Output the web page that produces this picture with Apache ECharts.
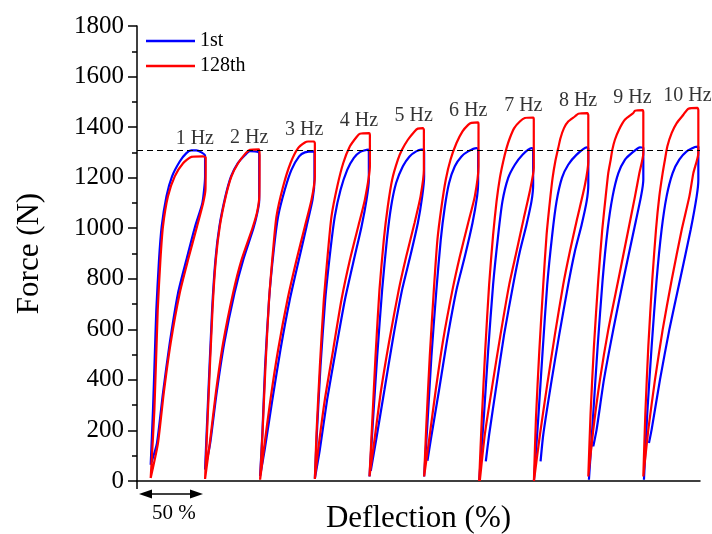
<!DOCTYPE html>
<html>
<head>
<meta charset="utf-8">
<script src="https://cdn.jsdelivr.net/npm/echarts@6/dist/echarts.min.js"></script>
<style>
  html, body { margin: 0; padding: 0; background: #fff; }
  #chart { width: 712px; height: 534px; }
</style>
</head>
<body>
<div id="chart"></div>
<script>
// Loading frequencies of the cyclic tests
const frequencies = ['1 Hz', '2 Hz', '3 Hz', '4 Hz', '5 Hz', '6 Hz', '7 Hz', '8 Hz', '9 Hz', '10 Hz'];

// Deflection (%) at which each frequency's loop begins on the shared axis
const loopStart = [10.7, 53.2, 96.2, 139.0, 181.7, 224.4, 267.4, 310.2, 352.7, 395.7];

// Reference force level (N)
const referenceForce = 1310;

// Y-axis tick values (N)
const forceTicks = [0, 200, 400, 600, 800, 1000, 1200, 1400, 1600, 1800];

// 1st cycle: [local deflection (%), force (N)] for each frequency
const cycle1st = [
  [[0,64],[1.8,282],[3.1,480],[4.4,677],[6.5,875],[8.6,1007],[12.3,1126],[16.7,1205],[22.7,1264],[27.9,1297],[31.8,1308],[35.7,1308],[42.5,1287],[42.5,1205],[40.4,1100],[34.7,1007],[27.9,875],[21.4,744],[14.9,546],[9.6,348],[4.9,150],[0,64]],
  [[0,45],[2,282],[5.5,677],[8.1,875],[11.2,1007],[15.9,1126],[20.3,1205],[25.5,1257],[31.3,1290],[35,1305],[41.5,1302],[42.3,1290],[42.3,1110],[40.8,1060],[37.8,1000],[29.8,875],[23,744],[15,546],[9,348],[4,150],[0,45]],
  [[0,20],[1.8,190],[3.9,453],[7.0,717],[10.7,915],[14.1,1047],[19.3,1152],[24.5,1231],[30.5,1284],[35,1300],[42,1304],[42.5,1295],[42.5,1192],[41,1113],[36.3,1007],[30.3,875],[23.2,717],[15.9,519],[9.6,322],[3.6,124],[0,20]],
  [[0,10],[1.6,190],[4.4,453],[8.1,717],[12.2,915],[15.6,1047],[20.1,1152],[25.3,1231],[30.5,1278],[35.2,1301],[41.7,1311],[42.2,1300],[42.2,1192],[40.4,1113],[36.5,1007],[30.5,875],[23.5,717],[16.4,519],[9.6,322],[3.9,124],[0,10]],
  [[0,18],[2.6,229],[6,493],[9.9,757],[13.6,955],[16.9,1086],[20.8,1179],[26.1,1245],[31.3,1284],[36.5,1304],[40.4,1311],[42.5,1311],[42.7,1300],[42.7,1205],[41.2,1126],[37.8,1021],[31.8,888],[25.5,757],[18.2,559],[11.7,361],[5.2,163],[1,40]],
  [[0,18],[2.6,229],[5.7,493],[9.6,757],[13,955],[16.2,1086],[19.5,1179],[24,1245],[29.2,1284],[34.4,1304],[40.9,1317],[42.2,1312],[42.2,1179],[41.4,1126],[37.8,1021],[31.8,888],[25.3,757],[18,559],[11.7,361],[5.2,163],[2.6,80]],
  [[0,0],[3.6,249],[7,513],[10.9,777],[14.9,974],[18.2,1106],[22.7,1199],[27.9,1251],[33.9,1291],[40.9,1317],[42.2,1315],[42.2,1172],[40.9,1106],[37,1014],[31.8,908],[26.6,777],[19.5,579],[13.6,381],[7.8,183],[5.2,78]],
  [[0,0],[3.4,249],[6.8,513],[10.4,777],[14.3,974],[17.7,1106],[21.9,1199],[26.8,1251],[33.4,1291],[41.2,1320],[42.5,1316],[42.5,1172],[41.2,1106],[37.3,1014],[32,908],[26.8,777],[19.8,579],[13.3,381],[7.3,183],[5.2,78]],
  [[0.5,5],[3.9,269],[7.3,532],[11.2,796],[15.1,994],[19,1126],[23.5,1218],[28.7,1271],[33.9,1297],[40.4,1320],[43,1318],[43,1192],[41.2,1126],[35.7,994],[27.4,796],[19.5,598],[12.2,400],[6.5,203],[3.9,137]],
  [[0.5,5],[3.1,269],[6.5,532],[10.4,796],[14.3,994],[18.2,1126],[22.9,1218],[28.1,1271],[33.9,1304],[40.4,1321],[43,1323],[43,1192],[41.7,1126],[37,994],[28.7,796],[20.3,598],[13,400],[6.5,203],[4.4,150]]
];

// 128th cycle: [local deflection (%), force (N)] for each frequency
const cycle128th = [
  [[0,12],[2.9,282],[5.5,677],[7.6,875],[9.6,1007],[13.5,1126],[18.8,1205],[25.3,1257],[31.8,1282],[40.9,1284],[43,1280],[42.8,1152],[41,1100],[36.2,1007],[29.2,875],[22.7,744],[15.6,546],[10.2,348],[5.7,150],[0,12]],
  [[0,8],[2.3,282],[5.8,677],[8.4,875],[11.5,1007],[16.2,1126],[20.6,1205],[25.8,1257],[31.8,1297],[35,1310],[42.2,1312],[42.6,1290],[42.4,1126],[40.5,1060],[37,1000],[28.5,875],[21.9,744],[14.1,546],[8.4,348],[3.7,150],[0,8]],
  [[0,5],[1.9,190],[4.2,453],[7.0,717],[10.2,915],[12.8,1047],[18.0,1165],[23.8,1258],[29.7,1317],[35,1339],[37.5,1343],[42.2,1343],[42.8,1335],[42.8,1205],[40.2,1113],[35,1007],[28.5,875],[21.4,717],[14.1,519],[8.1,322],[2.9,124],[0,5]],
  [[0,8],[1.3,190],[3.9,453],[7.0,717],[10.4,915],[13,1047],[17.5,1165],[22.2,1258],[27.4,1324],[32.6,1361],[35.2,1374],[42.5,1376],[43,1370],[43,1245],[39.1,1113],[33.9,1007],[27.4,875],[20.8,717],[14.3,519],[7.8,322],[2.6,124],[0,8]],
  [[0,18],[2.1,229],[4.7,493],[7.8,757],[11.2,955],[14.3,1086],[17.7,1192],[22.2,1271],[25.5,1311],[30,1350],[35.2,1383],[37.8,1394],[41.7,1396],[42.5,1390],[42.5,1231],[39.9,1126],[35.2,1021],[28.7,888],[22.9,757],[15.6,559],[9.1,361],[3.9,163],[0,18]],
  [[0,18],[1.8,229],[4.4,493],[7.6,757],[10.4,955],[13.6,1086],[16.9,1192],[20.6,1271],[25.3,1337],[30,1383],[34.4,1409],[37,1417],[42.2,1419],[42.5,1412],[42.5,1245],[39.6,1126],[34.4,1021],[27.9,888],[22.2,757],[14.9,559],[9.1,361],[3.9,163],[0,18]],
  [[0,0],[2.1,249],[4.7,513],[7.8,777],[10.9,974],[13.6,1106],[16.2,1199],[18.8,1264],[21.4,1317],[24,1357],[27.4,1396],[31.8,1422],[35.7,1436],[42.2,1438],[42.7,1430],[42.7,1238],[39.6,1146],[34.9,1040],[29.2,908],[23.5,777],[16.7,579],[10.4,381],[4.4,183],[0.5,0]],
  [[0,0],[1.6,249],[4.2,513],[7.3,777],[9.9,974],[12.5,1106],[14.6,1199],[16.7,1264],[19,1317],[20.8,1357],[23.5,1396],[26.8,1422],[32,1442],[34.7,1453],[41.7,1455],[42.5,1447],[42.5,1264],[39.9,1172],[33.9,1040],[28.1,908],[22.9,777],[16.4,579],[10.4,381],[4.7,183],[0,0]],
  [[0,18],[1.8,269],[4.4,532],[7.8,796],[10.9,994],[13.6,1126],[15.6,1218],[17.5,1271],[18.8,1311],[20.8,1350],[24,1390],[28.7,1430],[35.2,1456],[36.5,1465],[42.5,1467],[43,1460],[43,1297],[39.9,1218],[36.5,1126],[31.3,994],[23.5,796],[15.6,598],[9.1,400],[3.9,203],[0,18]],
  [[0,18],[1.6,269],[3.9,532],[7,796],[9.9,994],[12.5,1126],[15.1,1218],[16.9,1271],[18.8,1324],[22.2,1377],[26.1,1416],[31.3,1449],[35.2,1473],[42.2,1476],[43,1468],[43,1297],[39.1,1218],[36,1126],[30,994],[22.2,796],[15.1,598],[9.1,400],[3.9,203],[0,18]]
];

const FONT = '"Liberation Serif", "Times New Roman", serif';
const BLUE = '#0000ff';
const RED = '#ff0000';

// Place a loop on the shared deflection axis
function shifted(loop, start) {
  return loop.map(p => [start + p[0], p[1]]);
}

function loopSeries(name, color, loops) {
  return loops.map((loop, i) => ({
    name: name,
    type: 'line',
    data: shifted(loop, loopStart[i]),
    showSymbol: false,
    symbol: 'none',
    smooth: 0.2,
    lineStyle: { color: color, width: 2.2 },
    itemStyle: { color: color },
    silent: true,
    z: name === '1st' ? 2 : 3
  }));
}

// Frequency labels sit above the highest point of each pair of loops
const labelData = frequencies.map((f, i) => {
  const peak = Math.max(...cycle1st[i].map(p => p[1]), ...cycle128th[i].map(p => p[1]));
  return { value: [loopStart[i] + 34.5, peak], label: { formatter: f } };
});

const series = [
  ...loopSeries('1st', BLUE, cycle1st),
  ...loopSeries('128th', RED, cycle128th),
  {
    name: 'freq',
    type: 'scatter',
    data: labelData,
    symbolSize: 0,
    silent: true,
    label: {
      show: true,
      position: 'top',
      distance: 2,
      color: '#000',
      fontFamily: FONT,
      fontSize: 20
    },
    markLine: {
      silent: true,
      symbol: 'none',
      label: { show: false },
      lineStyle: { color: '#000', type: [6, 4], width: 1 },
      data: [{ yAxis: referenceForce }]
    }
  }
];

const chart = echarts.init(document.getElementById('chart'), null, { renderer: 'canvas' });
chart.setOption({
  animation: false,
  backgroundColor: '#fff',
  grid: { left: 137, right: 12, top: 26, bottom: 53, containLabel: false, outerBoundsMode: 'none' },
  legend: {
    data: ['1st', '128th'],
    orient: 'vertical',
    left: 141,
    top: 26,
    icon: 'rect',
    itemWidth: 49,
    itemHeight: 2.5,
    itemGap: 5,
    textStyle: { fontFamily: FONT, fontSize: 20, color: '#000' }
  },
  xAxis: {
    type: 'value',
    min: 0,
    max: 440,
    name: 'Deflection (%)',
    nameLocation: 'middle',
    nameGap: 22,
    nameTextStyle: { fontFamily: FONT, fontSize: 31, color: '#000' },
    axisLine: { lineStyle: { color: '#000', width: 1.5 } },
    axisTick: { show: true, length: 8, customValues: [0], lineStyle: { color: '#000', width: 1.5 } },
    axisLabel: { show: false },
    splitLine: { show: false }
  },
  yAxis: {
    type: 'value',
    min: forceTicks[0],
    max: forceTicks[forceTicks.length - 1],
    interval: forceTicks[1] - forceTicks[0],
    name: 'Force (N)',
    nameLocation: 'middle',
    nameGap: 92,
    nameTextStyle: { fontFamily: FONT, fontSize: 31, color: '#000' },
    axisLine: { show: true, lineStyle: { color: '#000', width: 1.5 } },
    axisTick: { show: true, length: 9, lineStyle: { color: '#000', width: 1.5 } },
    minorTick: { show: true, splitNumber: 2, length: 5, lineStyle: { color: '#000', width: 1.5 } },
    axisLabel: { fontFamily: FONT, fontSize: 25, color: '#000', margin: 13, formatter: v => String(v) },
    splitLine: { show: false }
  },
  series: series
});

// Scale bar under the axis: a double-headed arrow spanning 50 % deflection
const p0 = chart.convertToPixel({ gridIndex: 0 }, [0, 0]);
const p50 = chart.convertToPixel({ gridIndex: 0 }, [50, 0]);
const ay = p0[1] + 13;
const x0 = p0[0] + 2;
const x1 = p50[0] + 2;
const head = 13, half = 4.5;
chart.setOption({
  graphic: [
    { type: 'line', shape: { x1: x0 + head - 2, y1: ay, x2: x1 - head + 2, y2: ay }, style: { stroke: '#000', lineWidth: 1.5 }, silent: true },
    { type: 'polygon', shape: { points: [[x0, ay], [x0 + head, ay - half], [x0 + head, ay + half]] }, style: { fill: '#000' }, silent: true },
    { type: 'polygon', shape: { points: [[x1, ay], [x1 - head, ay - half], [x1 - head, ay + half]] }, style: { fill: '#000' }, silent: true },
    { type: 'text', x: (x0 + x1) / 2 + 3, y: p0[1] + 32, style: { text: '50 %', font: '21px ' + FONT, fill: '#000', align: 'center', verticalAlign: 'middle' }, silent: true }
  ]
});
</script>
</body>
</html>
